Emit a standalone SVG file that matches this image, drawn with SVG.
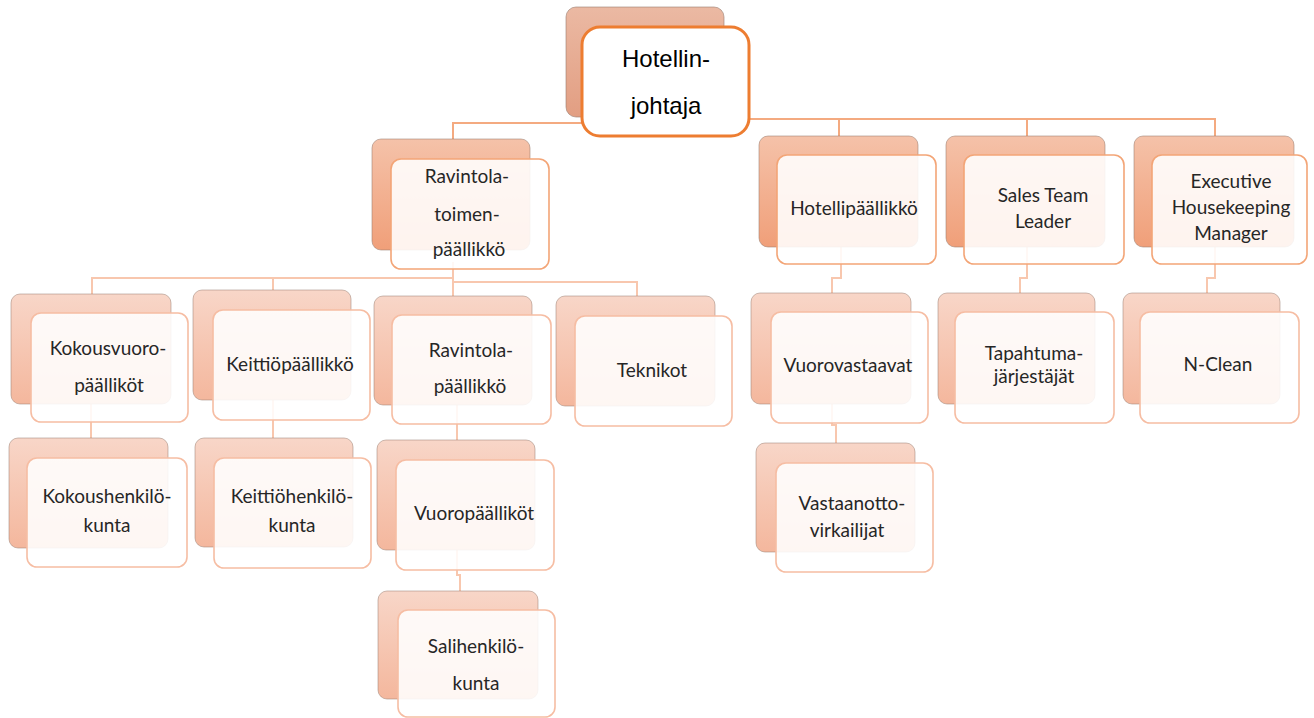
<svg xmlns="http://www.w3.org/2000/svg" width="1314" height="718" viewBox="0 0 1314 718">
<defs>
<linearGradient id="gTop" x1="0" y1="0" x2="0" y2="1"><stop offset="0" stop-color="#EBB9A3"/><stop offset="1" stop-color="#E29E82"/></linearGradient>
<linearGradient id="g1" x1="0" y1="0" x2="0" y2="1"><stop offset="0" stop-color="#F5C2A9"/><stop offset="1" stop-color="#F09F79"/></linearGradient>
<linearGradient id="g2" x1="0" y1="0" x2="0" y2="1"><stop offset="0" stop-color="#F8D6C8"/><stop offset="1" stop-color="#F4B79D"/></linearGradient>
</defs>
<style>
.bgTop{fill:url(#gTop);stroke:#9a7d70;stroke-width:1;stroke-opacity:.6}
.b1{fill:url(#g1);stroke:#9a7d70;stroke-width:1;stroke-opacity:.55}
.b2{fill:url(#g2);stroke:#9a7d70;stroke-width:1;stroke-opacity:.5}
.fTop{fill:#fff;stroke:#ED7D31;stroke-width:3}
.f1{fill:#fff;fill-opacity:.88;stroke:#F3A577;stroke-width:1.6}
.f2{fill:#fff;fill-opacity:.88;stroke:#F6BDA3;stroke-width:1.6}
.tTop{font-family:"Liberation Sans",Arial,sans-serif;font-size:24px;fill:#000;text-anchor:middle}
.t{font-family:Lato,"Liberation Sans",sans-serif;font-size:19px;fill:#262626;text-anchor:middle}
.c1{fill:none;stroke:#F4AA80;stroke-width:2}
.c2{fill:none;stroke:#F8C7AE;stroke-width:2}
</style>
<g id="connectors">
<path class="c1" d="M453,139 V123 H600"/>
<path class="c1" d="M740,119 H1215 V136 M839,119 V137 M1027,119 V136"/>
<path class="c2" d="M453,262 V278 H92 V295 M273,278 V291 M453,278 V282 H637 V297 M453,282 V297"/>
<path class="c2" d="M841,247 V278 H832 V293 M1027,247 V278 H1020 V293 M1215,247 V278 H1207 V293"/>
<path class="c2" d="M832,404 V425 H836 V443"/>
<path class="c2" d="M91,404 V438 M273,400 V438 M457,405 V440 M457,550 V575 H460 V591"/>
</g>
<g id="n-hotellinjohtaja">
<rect class="bgTop" x="566" y="7" width="158" height="110" rx="10"/>
<rect class="fTop" x="582" y="27" width="167" height="109" rx="18"/>
<text class="tTop" x="666" y="67">Hotellin-</text>
<text class="tTop" x="666" y="114">johtaja</text>
</g>
<g id="n-ravintolatoimenpaallikko">
<rect class="b1" x="372" y="139" width="158" height="111" rx="9"/>
<rect class="f1" x="391" y="159" width="158" height="110" rx="10"/>
<text class="t" x="467" y="183">Ravintola-</text>
<text class="t" x="467" y="221">toimen-</text>
<text class="t" x="469" y="256">päällikkö</text>
</g>
<g id="n-hotellipaallikko">
<rect class="b1" x="759" y="136" width="159" height="111" rx="9"/>
<rect class="f1" x="777" y="155" width="159" height="109" rx="10"/>
<text class="t" x="854" y="215">Hotellipäällikkö</text>
</g>
<g id="n-salesteamleader">
<rect class="b1" x="946" y="136" width="159" height="111" rx="9"/>
<rect class="f1" x="964" y="155" width="160" height="109" rx="10"/>
<text class="t" x="1043" y="202">Sales Team</text>
<text class="t" x="1043" y="228">Leader</text>
</g>
<g id="n-executive">
<rect class="b1" x="1134" y="136" width="160" height="111" rx="9"/>
<rect class="f1" x="1152" y="155" width="155" height="109" rx="10"/>
<text class="t" x="1231" y="188">Executive</text>
<text class="t" x="1231" y="214">Housekeeping</text>
<text class="t" x="1231" y="240">Manager</text>
</g>
<g id="n-kokousvuoropaalliko">
<rect class="b2" x="11" y="294" width="160" height="110" rx="9"/>
<rect class="f2" x="31" y="313" width="157" height="109" rx="10"/>
<text class="t" x="108" y="355">Kokousvuoro-</text>
<text class="t" x="109" y="392">päälliköt</text>
</g>
<g id="n-keittiopaallikko">
<rect class="b2" x="193" y="290" width="158" height="110" rx="9"/>
<rect class="f2" x="213" y="310" width="157" height="110" rx="10"/>
<text class="t" x="290" y="371">Keittiöpäällikkö</text>
</g>
<g id="n-ravintolapaallikko">
<rect class="b2" x="374" y="296" width="158" height="109" rx="9"/>
<rect class="f2" x="392" y="315" width="159" height="109" rx="10"/>
<text class="t" x="471" y="357">Ravintola-</text>
<text class="t" x="470" y="393">päällikkö</text>
</g>
<g id="n-teknikot">
<rect class="b2" x="556" y="296" width="159" height="110" rx="9"/>
<rect class="f2" x="575" y="316" width="157" height="110" rx="10"/>
<text class="t" x="652" y="377">Teknikot</text>
</g>
<g id="n-vuorovastaavat">
<rect class="b2" x="751" y="293" width="160" height="111" rx="9"/>
<rect class="f2" x="771" y="312" width="157" height="111" rx="10"/>
<text class="t" x="848" y="372">Vuorovastaavat</text>
</g>
<g id="n-tapahtumajarjestajat">
<rect class="b2" x="938" y="293" width="157" height="111" rx="9"/>
<rect class="f2" x="955" y="312" width="159" height="111" rx="10"/>
<text class="t" x="1034" y="360">Tapahtuma-</text>
<text class="t" x="1034" y="383">järjestäjät</text>
</g>
<g id="n-nclean">
<rect class="b2" x="1123" y="293" width="157" height="111" rx="9"/>
<rect class="f2" x="1140" y="312" width="159" height="111" rx="10"/>
<text class="t" x="1218" y="371">N-Clean</text>
</g>
<g id="n-kokoushenkilokunta">
<rect class="b2" x="9" y="438" width="159" height="110" rx="9"/>
<rect class="f2" x="27" y="458" width="160" height="109" rx="10"/>
<text class="t" x="107" y="503">Kokoushenkilö-</text>
<text class="t" x="107" y="532">kunta</text>
</g>
<g id="n-keittiohenkilokunta">
<rect class="b2" x="195" y="438" width="158" height="109" rx="9"/>
<rect class="f2" x="214" y="458" width="157" height="110" rx="10"/>
<text class="t" x="292" y="503">Keittiöhenkilö-</text>
<text class="t" x="292" y="532">kunta</text>
</g>
<g id="n-vuoropaalliköt">
<rect class="b2" x="377" y="440" width="158" height="110" rx="9"/>
<rect class="f2" x="396" y="460" width="158" height="110" rx="10"/>
<text class="t" x="474" y="520">Vuoropäälliköt</text>
</g>
<g id="n-vastaanottovirkailijat">
<rect class="b2" x="756" y="443" width="159" height="109" rx="9"/>
<rect class="f2" x="776" y="463" width="157" height="109" rx="10"/>
<text class="t" x="852" y="510">Vastaanotto-</text>
<text class="t" x="847" y="537">virkailijat</text>
</g>
<g id="n-salihenkilokunta">
<rect class="b2" x="378" y="591" width="160" height="108" rx="9"/>
<rect class="f2" x="398" y="610" width="157" height="107" rx="10"/>
<text class="t" x="476" y="653">Salihenkilö-</text>
<text class="t" x="476" y="690">kunta</text>
</g>
</svg>
